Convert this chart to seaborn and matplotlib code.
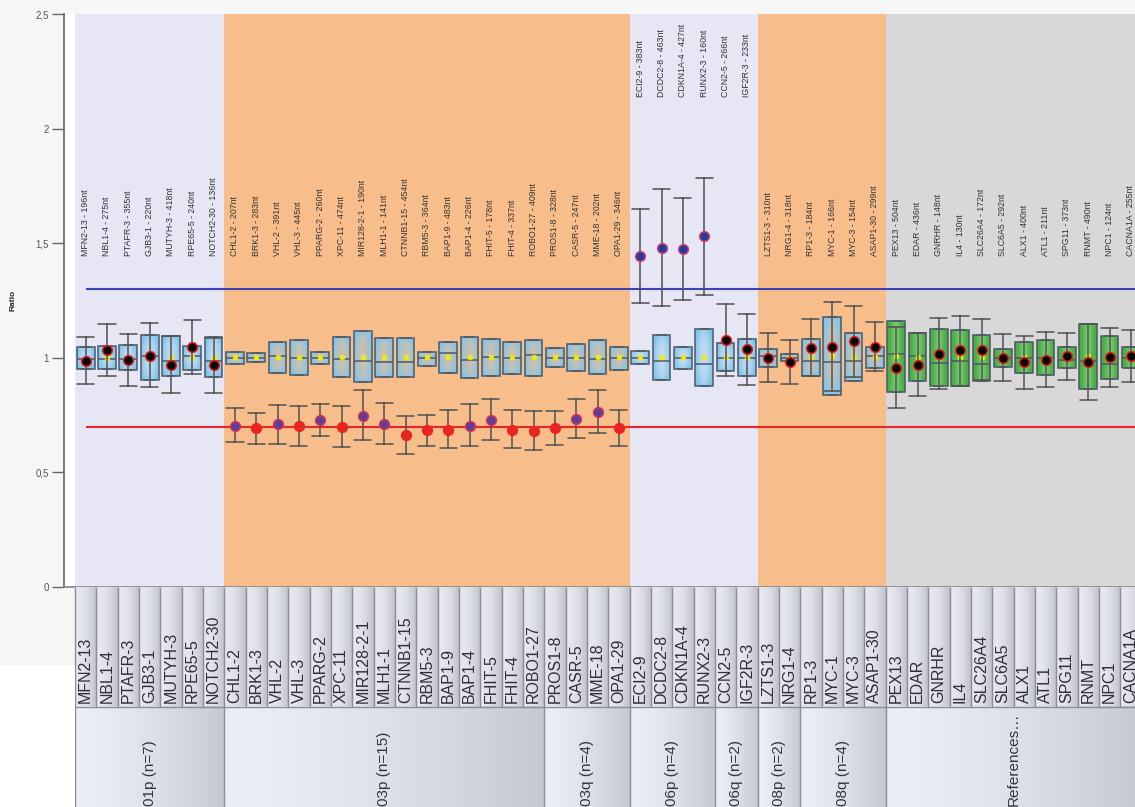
import numpy as np
import pandas as pd
import matplotlib
matplotlib.use("Agg")
import matplotlib.pyplot as plt
from matplotlib.patches import Rectangle
from matplotlib.colors import to_rgb
import seaborn as sns

sns.set_theme(style="white")
plt.rcParams["font.family"] = ["Liberation Sans", "DejaVu Sans"]

# ---------------- data ----------------
probes = ["MFN2-13", "NBL1-4", "PTAFR-3", "GJB3-1", "MUTYH-3", "RPE65-5", "NOTCH2-30",
          "CHL1-2", "BRK1-3", "VHL-2", "VHL-3", "PPARG-2", "XPC-11", "MIR128-2-1", "MLH1-1",
          "CTNNB1-15", "RBM5-3", "BAP1-9", "BAP1-4", "FHIT-5", "FHIT-4", "ROBO1-27",
          "PROS1-8", "CASR-5", "MME-18", "OPA1-29",
          "ECI2-9", "DCDC2-8", "CDKN1A-4", "RUNX2-3",
          "CCN2-5", "IGF2R-3",
          "LZTS1-3", "NRG1-4",
          "RP1-3", "MYC-1", "MYC-3", "ASAP1-30",
          "PEX13", "EDAR", "GNRHR", "IL4", "SLC26A4", "SLC6A5", "ALX1", "ATL1", "SPG11",
          "RNMT", "NPC1", "CACNA1A"]
lengths_nt = [196, 275, 355, 220, 418, 240, 136,
              207, 283, 391, 445, 260, 474, 190, 141, 454, 364, 483, 226, 178, 337, 409,
              328, 247, 202, 346,
              383, 463, 427, 160,
              266, 233,
              310, 318,
              184, 166, 154, 299,
              504, 436, 148, 130, 172, 292, 400, 211, 373, 490, 124, 255]
group_names = ["01p (n=7)", "03p (n=15)", "03q (n=4)", "06p (n=4)", "06q (n=2)",
               "08p (n=2)", "08q (n=4)", "References…"]
group_sizes = [7, 15, 4, 4, 2, 2, 4, 12]

# reference range boxes (min / median / max)
box_low = [0.952, 0.949, 0.946, 0.904, 0.919, 0.948, 0.916,
           0.974, 0.981, 0.933, 0.923, 0.974, 0.915, 0.893, 0.916, 0.916, 0.964, 0.933,
           0.910, 0.922, 0.930, 0.922,
           0.960, 0.943, 0.930, 0.948,
           0.972, 0.904, 0.951, 0.878,
           0.941, 0.919,
           0.962, 0.984,
           0.919, 0.836, 0.897, 0.955,
           0.849, 0.897, 0.878, 0.878, 0.897, 0.962, 0.933, 0.926, 0.955, 0.865, 0.907, 0.955]
box_med = [0.994, 0.994, 0.994, 1.009, 0.987, 1.009, 0.987,
           1.000, 1.000, 1.009, 1.000, 1.000, 0.994, 0.987, 0.980, 0.980, 1.000, 1.020,
           0.990, 1.003, 1.000, 1.013,
           1.000, 1.000, 0.994, 1.000,
           1.000, 0.984, 1.000, 0.972,
           1.000, 1.000,
           1.007, 1.000,
           0.984, 0.981, 0.987, 1.009,
           1.017, 1.010, 0.977, 0.984, 0.972, 1.000, 1.000, 1.000, 0.991, 0.984, 0.974, 1.000]
box_high = [1.049, 1.052, 1.057, 1.100, 1.093, 1.052, 1.090,
            1.027, 1.020, 1.068, 1.078, 1.027, 1.090, 1.115, 1.085, 1.085, 1.027, 1.068,
            1.090, 1.081, 1.071, 1.078,
            1.042, 1.060, 1.078, 1.049,
            1.030, 1.100, 1.046, 1.125,
            1.064, 1.081,
            1.039, 1.017,
            1.081, 1.177, 1.110, 1.045,
            1.162, 1.107, 1.125, 1.122, 1.100, 1.039, 1.067, 1.078, 1.046, 1.148, 1.097, 1.046]
mean_ratio = [1.000, 1.000, 1.000, 1.000, 1.003, 1.003, 1.003,
              1.003, 1.003, 1.003, 1.003, 1.003, 1.003, 1.003, 1.003, 1.003, 1.003, 1.003,
              1.003, 1.003, 1.003, 1.003,
              1.003, 1.003, 1.003, 1.003,
              1.003, 1.003, 1.003, 1.003,
              1.003, 1.003,
              1.003, 1.000,
              1.003, 1.009, 1.003, 1.003,
              1.009, 1.003, 1.003, 1.003, 1.003, 1.000, 1.003, 1.000, 1.000, 1.009, 1.000, 1.000]

# sample ratio with its confidence interval
ratio = [0.987, 1.032, 0.990, 1.009, 0.970, 1.046, 0.968,
         0.704, 0.693, 0.710, 0.703, 0.727, 0.699, 0.748, 0.710, 0.661, 0.683, 0.687,
         0.704, 0.730, 0.687, 0.680,
         0.694, 0.733, 0.764, 0.693,
         1.443, 1.481, 1.474, 1.530,
         1.078, 1.038,
         1.000, 0.983,
         1.042, 1.049, 1.075, 1.046,
         0.955, 0.968, 1.017, 1.032, 1.035, 1.000, 0.980, 0.991, 1.006, 0.981, 1.003, 1.009]
err_low = [0.886, 0.919, 0.878, 0.872, 0.846, 0.930, 0.846,
           0.632, 0.626, 0.626, 0.617, 0.658, 0.612, 0.640, 0.622, 0.580, 0.614, 0.606,
           0.614, 0.643, 0.606, 0.597,
           0.620, 0.649, 0.670, 0.617,
           1.238, 1.226, 1.252, 1.274,
           0.922, 0.883,
           0.896, 0.887,
           0.919, 0.853, 0.916, 0.941,
           0.781, 0.832, 0.864, 0.878, 0.904, 0.897, 0.864, 0.872, 0.903, 0.817, 0.872, 0.896]
err_high = [1.090, 1.148, 1.103, 1.151, 1.093, 1.165, 1.088,
            0.781, 0.759, 0.796, 0.791, 0.800, 0.788, 0.861, 0.803, 0.745, 0.752, 0.771,
            0.800, 0.822, 0.771, 0.767,
            0.767, 0.820, 0.861, 0.771,
            1.648, 1.738, 1.697, 1.786,
            1.233, 1.191,
            1.107, 1.078,
            1.170, 1.245, 1.226, 1.158,
            1.133, 1.107, 1.172, 1.184, 1.170, 1.104, 1.096, 1.114, 1.110, 1.148, 1.132, 1.120]
state = (["normal"] * 7 +
         ["mixed", "loss", "mixed", "loss", "mixed", "loss", "mixed", "mixed", "loss", "loss",
          "loss", "mixed", "mixed", "loss", "loss",
          "loss", "mixed", "mixed", "loss"] +
         ["gain"] * 4 + ["normal"] * 8 + ["normal"] * 12)
box_kind = ["probe"] * 38 + ["ref"] * 12
upper_threshold = 1.3
lower_threshold = 0.7

# ---------------- style ----------------
band_colors = ["#e6e6f5", "#f7be8c", "#f7be8c", "#e6e6f5", "#e6e6f5",
               "#f7be8c", "#f7be8c", "#d8d8d8"]
label_y = [1.445, 1.445, 1.445, 2.14, 2.14, 1.445, 1.445, 1.445]
state_fill = {"normal": "#080808", "loss": "#e8261f", "mixed": "#5b3f9e", "gain": "#1f3f9c"}
state_edge = {"normal": "#e0201c", "loss": "#e8261f", "mixed": "#d9304a", "gain": "#d63a6e"}

W, H = 1135, 807
fig = plt.figure(figsize=(W / 100, H / 100), dpi=100)
fig.patch.set_facecolor("#f6f6f6")
fig.patches.append(Rectangle((0, 0), 75 / W, 1 - 665 / H, transform=fig.transFigure,
                             facecolor="white", edgecolor="none", zorder=0))

n = len(probes)
step = 21.33
x_left = (64 - 75) / step - 0.5
x_right = (W - 75) / step - 0.5

ax = fig.add_axes([64 / W, 1 - 587 / H, (W - 64) / W, (587 - 14) / H])
ax.set_facecolor("white")

# background bands
starts = np.cumsum([0] + group_sizes[:-1])
for gi, (s, sz) in enumerate(zip(starts, group_sizes)):
    right = s + sz - 0.5 if gi < len(group_sizes) - 1 else x_right + 1
    ax.axvspan(s - 0.5, right, color=band_colors[gi], zorder=0.2, lw=0)

# boxes
rows = []
for i, p in enumerate(probes):
    for v in (box_low[i], box_low[i], box_med[i], box_high[i], box_high[i]):
        rows.append({"probe": p, "value": v, "kind": box_kind[i]})
box_df = pd.DataFrame(rows)
before = list(ax.patches)
sns.boxplot(data=box_df, x="probe", y="value", hue="kind", order=probes,
            hue_order=["probe", "ref"], palette={"probe": "#86c8ec", "ref": "#49b244"},
            dodge=False, width=0.83, showfliers=False, whis=(0, 100),
            linecolor="#4d5966", linewidth=1.1, legend=False, ax=ax)
box_patches = [p for p in ax.patches if p not in before]

u = np.linspace(-1, 1, 64)
v = np.linspace(-1, 1, 64)
U, V = np.meshgrid(u, v)
for patch in box_patches:
    fc = patch.get_facecolor()[:3]
    ext = patch.get_path().get_extents()
    if fc[1] > fc[0] + 0.3 and fc[2] < 0.5:  # green reference box
        edge = np.array(to_rgb("#45ad3f"))
        centre = np.array(to_rgb("#86cd7f"))
        w = np.clip((1 - np.abs(U)) ** 1.6, 0, 1)[..., None]
        rgb = edge * (1 - w) + centre * w
        img = np.dstack([rgb, np.ones(U.shape)])
    else:
        base = np.array(to_rgb("#80c5ec"))
        a = 0.36 + 0.64 * np.clip(np.abs(U) ** 1.6 + 0.6 * np.abs(V) ** 3, 0, 1)
        img = np.dstack([np.broadcast_to(base, U.shape + (3,)), a])
    im = ax.imshow(img, extent=(ext.x0, ext.x1, ext.y0, ext.y1), aspect="auto",
                   origin="lower", interpolation="bilinear", zorder=1.9)
    im.set_clip_path(patch)
    patch.set_facecolor("none")

# mean markers
before_lines = list(ax.lines)
sns.pointplot(x=probes, y=mean_ratio, order=probes, color="#f2ee00", markers="x",
              linestyle="none", errorbar=None, markersize=3.5, ax=ax)
for ln in ax.lines:
    if ln not in before_lines:
        ln.set_markeredgewidth(1.8)
        ln.set_zorder(3)

# sample points with error bars
pts = []
for i, p in enumerate(probes):
    for val in (err_low[i], ratio[i], err_high[i]):
        pts.append({"probe": p, "value": val, "state": state[i]})
pt_df = pd.DataFrame(pts)
before_lines = list(ax.lines)
hue_order = ["normal", "loss", "mixed", "gain"]
sns.pointplot(data=pt_df, x="probe", y="value", hue="state", order=probes,
              hue_order=hue_order, palette=state_fill, estimator="median",
              errorbar=lambda s: (s.min(), s.max()), markers="o", linestyle="none",
              dodge=False, capsize=0.8, err_kws={"color": "#555555", "linewidth": 1.15},
              markersize=7, legend=False, ax=ax)
for ln in ax.lines:
    if ln in before_lines:
        continue
    if ln.get_marker() == "o":
        fc = ln.get_markerfacecolor()
        st = min(hue_order, key=lambda k: np.sum((np.array(to_rgb(state_fill[k])) -
                                                  np.array(to_rgb(fc))) ** 2))
        ln.set_markeredgecolor(state_edge[st])
        ln.set_markeredgewidth(1.1)
        ln.set_zorder(6)
    else:
        ln.set_zorder(5)

# threshold lines
ax.hlines(upper_threshold, 0, x_right + 1, color="#3b43b2", lw=1.5, zorder=4)
ax.hlines(lower_threshold, 0, x_right + 1, color="#e8262a", lw=1.5, zorder=4)

# probe labels
gi_of = np.repeat(np.arange(len(group_sizes)), group_sizes)
for i, p in enumerate(probes):
    ax.text(i, label_y[gi_of[i]], f"{p} - {lengths_nt[i]}nt", rotation=90,
            ha="center", va="bottom", fontsize=6.3, color="#333333", zorder=7)

ax.set_xlim(x_left, x_right)
ax.set_ylim(0, 2.5)
ax.set_xticks([])
ax.set_xlabel("")
ax.set_ylabel("")
yt = [0, 0.5, 1, 1.5, 2, 2.5]
ax.set_yticks(yt)
ax.set_yticklabels([f"{t:g}".replace(".", ",") for t in yt], fontsize=7, color="#555555")
ax.tick_params(axis="y", direction="out", length=9, width=1, color="#666666", pad=2,
               left=True)
for s in ["top", "right"]:
    ax.spines[s].set_visible(False)
ax.spines["left"].set_color("#6a6a6a")
ax.spines["bottom"].set_color("#8a8a8a")
ax.grid(False)

fig.text(13 / W, 1 - 300 / H, "Ratio", rotation=90, fontsize=6, fontweight="bold",
         ha="center", va="center", color="#222222")

# ---------------- bottom table ----------------
axt = fig.add_axes([64 / W, 0, (W - 64) / W, (H - 587) / H])
axt.axis("off")

sub = 24
t = np.linspace(0, 1, sub)
prof = t ** 2.2
light = np.array(to_rgb("#e6e7ef"))
dark = np.array(to_rgb("#c0c2cc"))
cell = light[None, :] * (1 - prof[:, None]) + dark[None, :] * prof[:, None]
axt.imshow(np.tile(cell, (n, 1))[None, :, :], extent=(-0.5, n - 0.5, 707, 587),
           aspect="auto", interpolation="nearest", zorder=1)

glight = np.array(to_rgb("#eceef6"))
gdark = np.array(to_rgb("#c6c8d2"))
tg = np.linspace(0, 1, 64)
grow = glight[None, :] * (1 - tg[:, None] ** 1.5) + gdark[None, :] * tg[:, None] ** 1.5
for gi, (s, sz) in enumerate(zip(starts, group_sizes)):
    axt.imshow(grow[None, :, :], extent=(s - 0.5, s + sz - 0.5, 812, 707), aspect="auto",
               interpolation="bilinear", zorder=1)
    axt.text(s + (sz - 1) / 2, 806, group_names[gi], rotation=90, ha="center", va="bottom",
             fontsize=11, color="#333340", zorder=3)

axt.vlines(np.arange(n + 1) - 0.5, 587, 707, color="#8c8c94", lw=1, zorder=2)
bounds = np.cumsum([0] + group_sizes) - 0.5
axt.vlines(bounds, 707, 812, color="#8c8c94", lw=1, zorder=2)
axt.hlines(707, -0.5, n - 0.5, color="#8c8c94", lw=1, zorder=2)
for i, p in enumerate(probes):
    axt.text(i, 703, p, rotation=90, ha="center", va="bottom", fontsize=11.5,
             color="#2e2e3a", zorder=3)
axt.set_xlim(x_left, x_right)
axt.set_ylim(807, 587)

fig.savefig("out.png", dpi=100, facecolor=fig.get_facecolor())
